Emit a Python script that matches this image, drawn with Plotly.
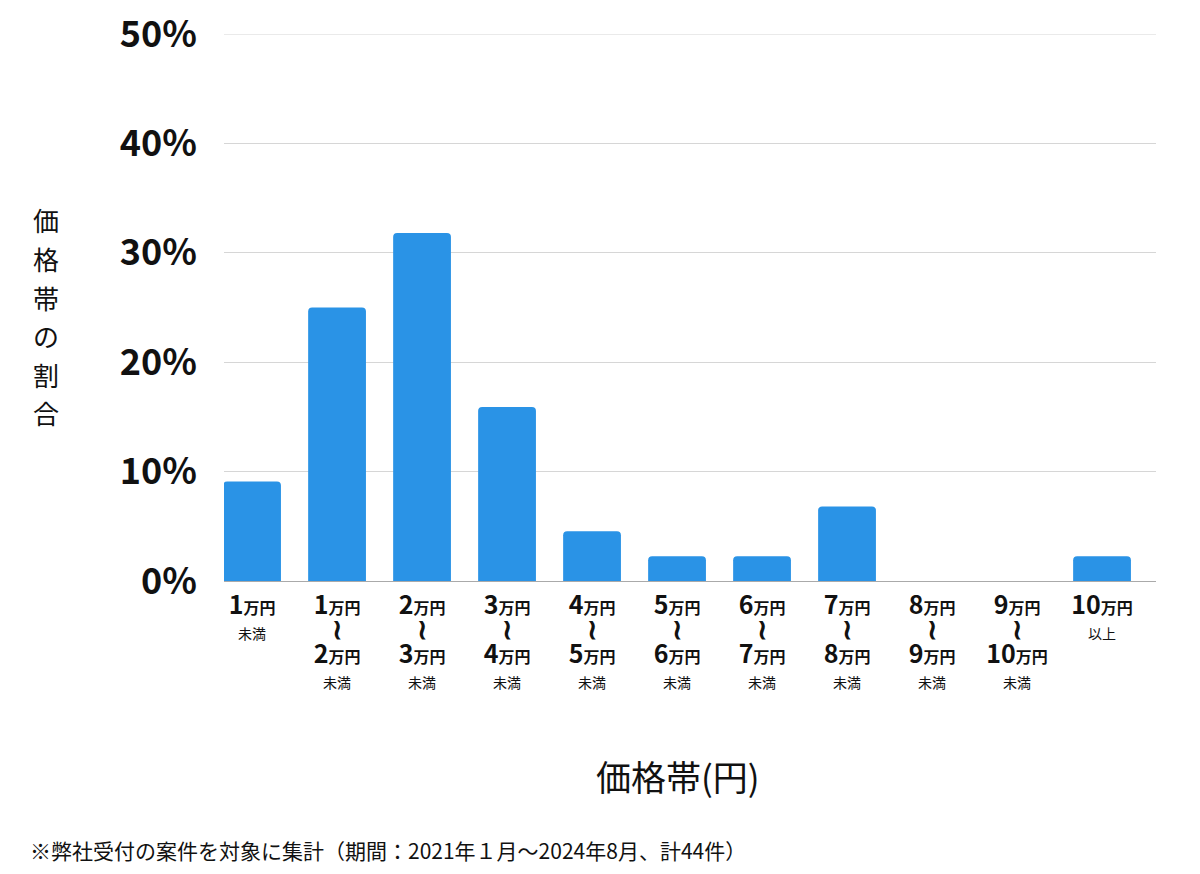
import plotly.graph_objects as go

# price bands (万円) and share of cases (%), 44 cases total
lower = ["", "1", "2", "3", "4", "5", "6", "7", "8", "9", "10"]
upper = ["1", "2", "3", "4", "5", "6", "7", "8", "9", "10", ""]
shares = [9.09, 25.0, 31.82, 15.91, 4.55, 2.27, 2.27, 6.82, 0.0, 0.0, 2.27]
y_ticks = [0, 10, 20, 30, 40, 50]
y_title = "価格帯の割合"

FONT = "Noto Sans CJK JP"
BLUE = "#2a93e6"
INK = "#111111"
GRID = "#d6d6d6"


def band_label(lo, hi):
    def amount(n):
        return (
            f"<b><span style='font-size:25px'>{n}</span>"
            f"<span style='font-size:16px'>万円</span></b>"
        )

    if lo == "":
        return amount(hi) + "<br><span style='font-size:14px'>未満</span>"
    if hi == "":
        return amount(lo) + "<br><span style='font-size:14px'>以上</span>"
    return (
        amount(lo)
        + "<br><b><span style='font-size:28px'>≀</span></b><br>"
        + amount(hi)
        + "<br><span style='font-size:14px'>未満</span>"
    )


x = list(range(len(shares)))
ticktext = [band_label(lo, hi) for lo, hi in zip(lower, upper)]

fig = go.Figure(
    go.Bar(
        x=x,
        y=shares,
        marker=dict(color=BLUE, cornerradius=4, line=dict(width=0)),
        width=0.68,
        hoverinfo="skip",
    )
)

# the page adds an 8px body margin, so the margins are shifted to compensate
fig.update_layout(
    width=1200,
    height=874,
    plot_bgcolor="white",
    paper_bgcolor="white",
    font=dict(family=FONT, color=INK),
    margin=dict(l=216, r=52, t=26, b=301),
    showlegend=False,
)

fig.update_xaxes(
    range=[-0.33, 10.635],
    tickmode="array",
    tickvals=x,
    ticktext=ticktext,
    tickfont=dict(size=19, family=FONT, color=INK),
    ticks="",
    showgrid=False,
    showline=True,
    linecolor="#aaaaaa",
    linewidth=1,
    ticklabelstandoff=9,
    zeroline=False,
    automargin=False,
)

fig.update_yaxes(
    range=[0, 50],
    tickmode="array",
    tickvals=y_ticks,
    ticktext=[f"<b>{v}%</b>" for v in y_ticks],
    tickfont=dict(size=36, family=FONT, color=INK),
    ticklabeloverflow="allow",
    showgrid=True,
    gridcolor=GRID,
    gridwidth=1,
    zeroline=False,
    ticks="",
    ticklabelstandoff=26,
    automargin=False,
)

# top gridline sits on the range edge, where plotly skips it
fig.add_shape(
    type="line",
    xref="paper",
    yref="y",
    x0=0,
    x1=1,
    y0=y_ticks[-1],
    y1=y_ticks[-1],
    line=dict(color=GRID, width=1),
    layer="below",
)

# vertical axis title, one character per annotation
for i, ch in enumerate(y_title):
    fig.add_annotation(
        text=ch,
        xref="paper",
        yref="paper",
        x=-0.191,
        y=0.66 - i * 0.0705,
        xanchor="center",
        yanchor="middle",
        showarrow=False,
        font=dict(size=26, family=FONT, color=INK),
    )

fig.add_annotation(
    text="価格帯(円)",
    xref="paper",
    yref="paper",
    x=0.487,
    y=-0.355,
    xanchor="center",
    yanchor="middle",
    showarrow=False,
    font=dict(size=35, family=FONT, color=INK),
)

fig.add_annotation(
    text="※弊社受付の案件を対象に集計（期間：2021年１月～2024年8月、計44件）",
    xref="paper",
    yref="paper",
    x=-0.21,
    y=-0.492,
    xanchor="left",
    yanchor="middle",
    showarrow=False,
    font=dict(size=21, family=FONT, color=INK),
)

fig.write_html("out.html")
